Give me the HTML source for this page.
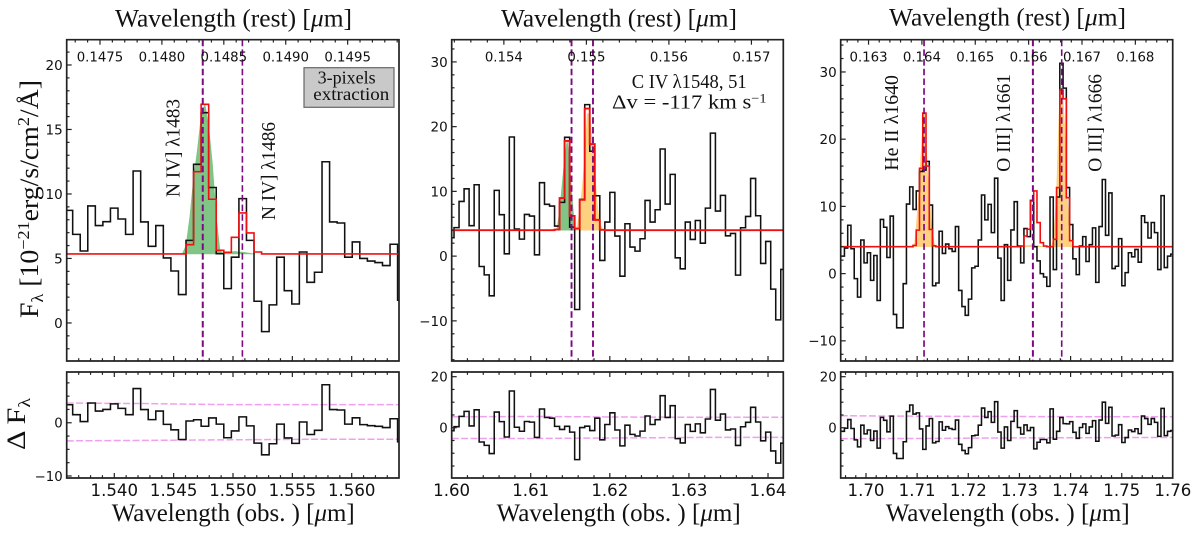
<!DOCTYPE html>
<html>
<head>
<meta charset="utf-8">
<title>Rest-frame UV emission lines</title>
<style>
html,body{margin:0;padding:0;background:#fff;}
svg{display:block;}
.serif{font-family:"Liberation Serif",serif;fill:#111;}
.sans{font-family:"DejaVu Sans",sans-serif;fill:#111;}
</style>
</head>
<body>
<svg id="chart" xmlns="http://www.w3.org/2000/svg" width="1200" height="536" viewBox="0 0 1200 536">
  <rect x="0" y="0" width="1200" height="536" fill="#fff"/>

  <text class="serif" x="115" y="26.5" font-size="25" textLength="237" lengthAdjust="spacingAndGlyphs">Wavelength (rest) [<tspan font-style="italic">μ</tspan>m]</text>
  <text class="serif" x="501" y="26.5" font-size="25" textLength="236" lengthAdjust="spacingAndGlyphs">Wavelength (rest) [<tspan font-style="italic">μ</tspan>m]</text>
  <text class="serif" x="889" y="25.5" font-size="25" textLength="237" lengthAdjust="spacingAndGlyphs">Wavelength (rest) [<tspan font-style="italic">μ</tspan>m]</text>

  <text class="serif" x="111.7" y="521" font-size="25" textLength="243" lengthAdjust="spacingAndGlyphs">Wavelength (obs. ) [<tspan font-style="italic">μ</tspan>m]</text>
  <text class="serif" x="496.7" y="521" font-size="25" textLength="244" lengthAdjust="spacingAndGlyphs">Wavelength (obs. ) [<tspan font-style="italic">μ</tspan>m]</text>
  <text class="serif" x="885.7" y="521" font-size="25" textLength="244" lengthAdjust="spacingAndGlyphs">Wavelength (obs. ) [<tspan font-style="italic">μ</tspan>m]</text>

  <text class="serif" transform="translate(38,318) rotate(-90)" font-size="26" textLength="238" lengthAdjust="spacingAndGlyphs">F<tspan dy="5" font-size="17">λ</tspan><tspan dy="-5"> [10</tspan><tspan dy="-9" font-size="17">−21</tspan><tspan dy="9">erg/s/cm</tspan><tspan dy="-9" font-size="17">2</tspan><tspan dy="9">/Å]</tspan></text>
  <text class="serif" transform="translate(25,450) rotate(-90)" font-size="26" textLength="52" lengthAdjust="spacingAndGlyphs">Δ F<tspan dy="5" font-size="17">λ</tspan></text>

  <g id="marks"></g>

  <rect x="304" y="67.7" width="90" height="39.6" fill="#c9c9c9" stroke="#666" stroke-width="1.2"/>
  <text class="serif" x="317.7" y="83.3" font-size="17.5" textLength="58" lengthAdjust="spacingAndGlyphs">3-pixels</text>
  <text class="serif" x="313.3" y="100" font-size="17.5" textLength="76" lengthAdjust="spacingAndGlyphs">extraction</text>

  <text class="serif" transform="translate(179.5,197) rotate(-90)" font-size="20" textLength="98" lengthAdjust="spacingAndGlyphs">N IV] λ1483</text>
  <text class="serif" transform="translate(275,220) rotate(-90)" font-size="20" textLength="98" lengthAdjust="spacingAndGlyphs">N IV] λ1486</text>
  <text class="serif" x="631.7" y="88" font-size="20.5" textLength="115" lengthAdjust="spacingAndGlyphs">C IV λ1548, 51</text>
  <text class="serif" x="612" y="108.3" font-size="20.5" textLength="154.5" lengthAdjust="spacingAndGlyphs">Δv = -117 km s<tspan dy="-6" font-size="13">−1</tspan></text>
  <text class="serif" transform="translate(898,170.7) rotate(-90)" font-size="20" textLength="95.7" lengthAdjust="spacingAndGlyphs">He II λ1640</text>
  <text class="serif" transform="translate(1010,171.7) rotate(-90)" font-size="20" textLength="97.7" lengthAdjust="spacingAndGlyphs">O III] λ1661</text>
  <text class="serif" transform="translate(1101.7,171.7) rotate(-90)" font-size="20" textLength="97.7" lengthAdjust="spacingAndGlyphs">O III] λ1666</text>
</svg>

<script>
// ---------- data ----------
var restFactor = 10.4325; // 1 + z

// Panel 1: N IV]
var flux1 = [8.73,6.87,5.58,9.07,7.55,7.85,8.9,8.06,6.87,11.78,7.83,5.94,7.55,5.04,4.03,2.2,6.4,12.3,16.3,10.5,5.37,2.66,5.1,9.64,6.4,1.68,-0.67,1.4,5.1,2.5,1.47,5.5,3.15,3.93,12.5,7.83,7.75,5.1,6.28,5.0,4.8,4.68,4.45,6.1,1.76];
var continuum1 = 5.35;
var modelBins1 = [16,17,18,19,20,21,22,23,24,25];
var modelValues1 = [6.07,11.73,16.95,9.59,5.63,5.48,6.64,8.53,6.98,5.5];
var fillStart1a = 15;
var fillValues1a = [5.35,5.35,6.0,8.2,11.2,13.4,16.0,17.0,15.2,12.3,8.2,5.6,5.35];
var fillStart1b = 20;
var fillValues1b = [5.35,5.4,5.45,5.5,5.5,5.55,5.5,5.5,5.45,5.4,5.35];
var lineRest1 = [0.14833,0.14865];
var errorUpper1 = [3.7,3.6,3.4,3.4,3.4];
var errorLower1 = [-3.4,-3.3,-3.2,-3.1,-3.1];
var yTicks1 = [0,5,10,15,20];
var yMinor1 = [-2,-1,1,2,3,4,6,7,8,9,11,12,13,14,16,17,18,19,21];
var resTicks1 = [-10,0];
var resMinor1 = [-7.5,-5,-2.5,2.5,5,7.5];
var xTicks1 = [1.540,1.545,1.550,1.555,1.560];
var restTicks1 = [0.1475,0.1480,0.1485,0.1490,0.1495];

// Panel 2: C IV
var flux2 = [2.84,4.4,8.45,10.4,4.7,11.03,-1.6,-2.9,-6.13,10.15,6.4,0.36,18.4,4.18,2.63,6.44,6.19,0.2,11.34,8.0,7.73,4.64,8.3,18.35,4.48,-8.25,8.76,23.4,16.2,9.33,-0.67,5.26,9.85,3.1,-3.1,5.0,1.4,0.77,2.68,8.6,5.26,7.16,16.55,8.04,12.63,-0.26,-1.96,5.26,2.58,5.5,2.0,7.42,19.0,6.96,9.38,3.14,3.5,-2.94,4.38,6.13,12.0,6.24,-1.13,2.27,-5.1,-9.85,-2.06];
var continuum2 = 4.0;
var modelBins2 = [21,22,23,24,25,26,27,28,29,30];
var modelValues2 = [4.1,8.97,17.8,6.2,4.25,8.7,22.8,17.3,5.6,4.07];
var fillStart2a = 21;
var fillValues2a = [4,4.3,7,11,15,18,14.5,9,4.5,4];
var fillStart2b = 25;
var fillValues2b = [4,4.6,7,10.5,15,22,22,17.5,13,8,5,4.2,4];
var lineRest2 = [0.15482,0.15508];
var errorUpper2 = [4.3,4.4,4.2,4.1,4.1];
var errorLower2 = [-4.2,-4.2,-4.0,-3.8,-3.8];
var yTicks2 = [-10,0,10,20,30];
var yMinor2 = [-16,-14,-12,-8,-6,-4,-2,2,4,6,8,12,14,16,18,22,24,26,28,32];
var resTicks2 = [0,20];
var resMinor2 = [-15,-10,-5,5,10,15];
var xTicks2 = [1.60,1.61,1.62,1.63,1.64];
var restTicks2 = [0.154,0.155,0.156,0.157];

// Panel 3: He II, O III]
var flux3 = [2.6,3.8,7.2,3.7,-0.75,-3.5,5,1.6,3.1,-1,2.7,-4,8.06,6.9,2.4,8.56,-6.07,-8.06,-8.06,-1.5,10.35,12.9,9.55,12.3,15.2,15.4,16.7,10.2,-1.8,-1.4,6.3,3.0,4.4,3.7,3.3,7.0,-2.5,-4.9,-6.2,-3.8,0.85,1.1,5.0,11.7,8.0,10.3,6.1,14.2,2.3,-4.0,4.3,-1.0,6.5,10.7,4.1,1.6,6.7,5.5,10.9,4.0,1.9,0.0,-0.5,-1.9,11.4,0.6,11.4,31.3,27.6,12.8,7.3,2.2,-0.15,4.1,5.5,1.8,4.3,6.8,-1.3,7.0,14.0,5.7,12.0,0.75,1.1,5.2,-1.8,0.15,3.1,2.5,3.6,1.7,8.6,7.6,5.3,7.6,6.1,0.6,11.6,0.9,2.6,2.9];
var continuum3 = 4.0;
var modelBins3 = [22,23,24,25,26,27,28,55,56,57,58,59,60,61,62,65,66,67,68,69,70];
var modelValues3 = [4.2,6.47,15.67,23.88,16.0,6.57,4.13,4.1,5.6,6.6,10.8,12.3,7.6,4.6,4.1,5.1,12.8,27.3,26,11.3,4.9];
var fillStart3a = 22;
var fillValues3a = [4,4.6,7,10,14,18,22,24,20,15,12,8,6,4.6,4];
var fillStart3b = 55;
var fillValues3b = [4,4.05,4.1,4.15,4.2,4.2,4.25,4.25,4.25,4.2,4.2,4.15,4.1,4.05,4];
var fillStart3c = 64;
var fillValues3c = [4,4.2,5,8,12,20,27,28,26,22,13,10,6,4.5,4];
var lineRest3 = [0.16404,0.16608,0.16662];
var errorUpper3 = [4.7,4.5,4.4,4.3,4.3];
var errorLower3 = [-4.3,-4.2,-4.0,-3.9,-3.8];
var yTicks3 = [-10,0,10,20,30];
var yMinor3 = [-12,-8,-6,-4,-2,2,4,6,8,12,14,16,18,22,24,26,28,32,34];
var resTicks3 = [0,20];
var resMinor3 = [-15,-10,-5,5,10,15];
var xTicks3 = [1.70,1.71,1.72,1.73,1.74,1.75,1.76];
var restTicks3 = [0.163,0.164,0.165,0.166,0.167,0.168];

// ---------- drawing ----------
var SVGNS = 'http://www.w3.org/2000/svg';
var root = document.getElementById('marks');
var clipCount = 0;

function makeLine(x1, y1, x2, y2, color, width, dash, name) {
  var el = document.createElementNS(SVGNS, 'line');
  el.setAttribute('x1', x1);
  el.setAttribute('y1', y1);
  el.setAttribute('x2', x2);
  el.setAttribute('y2', y2);
  el.setAttribute('stroke', color);
  el.setAttribute('stroke-width', width);
  if (dash) el.setAttribute('stroke-dasharray', dash);
  
  
  root.appendChild(el);
  return el;
}

function makePath(d, fill, stroke, width, dash, clip, name) {
  var el = document.createElementNS(SVGNS, 'path');
  el.setAttribute('d', d);
  el.setAttribute('fill', fill);
  el.setAttribute('stroke', stroke);
  el.setAttribute('stroke-width', width);
  el.setAttribute('stroke-linejoin', 'miter');
  if (dash) el.setAttribute('stroke-dasharray', dash);
  if (clip) el.setAttribute('clip-path', 'url(#' + clip + ')');
  
  
  root.appendChild(el);
  return el;
}

function makeText(x, y, str, size, anchor, name) {
  var el = document.createElementNS(SVGNS, 'text');
  el.setAttribute('x', x);
  el.setAttribute('y', y);
  el.setAttribute('font-size', size);
  el.setAttribute('text-anchor', anchor);
  el.setAttribute('class', 'sans');
  el.textContent = str;
  
  
  root.appendChild(el);
  return el;
}

function makeClip(x, y, w, h) {
  clipCount += 1;
  var id = 'panel-clip-' + clipCount;
  var cp = document.createElementNS(SVGNS, 'clipPath');
  cp.setAttribute('id', id);
  
  
  var r = document.createElementNS(SVGNS, 'rect');
  r.setAttribute('x', x);
  r.setAttribute('y', y);
  r.setAttribute('width', w);
  r.setAttribute('height', h);
  
  
  cp.appendChild(r);
  root.appendChild(cp);
  return id;
}

function linear(d0, d1, r0, r1) {
  return function (v) { return r0 + (v - d0) / (d1 - d0) * (r1 - r0); };
}

function fullModel(n, base, bins, values) {
  var out = [];
  for (var i = 0; i < n; i++) out.push(base);
  for (var j = 0; j < bins.length; j++) out[bins[j]] = values[j];
  return out;
}

function stepPath(values, edge, x, y) {
  var d = '';
  for (var i = 0; i < values.length; i++) {
    var yy = y(values[i]).toFixed(2);
    d += (i === 0 ? 'M' : 'L') + x(edge(i)).toFixed(2) + ' ' + yy;
    d += 'L' + x(edge(i + 1)).toFixed(2) + ' ' + yy;
  }
  return d;
}

function fillPath(start, values, base, edge, x, y) {
  var d = 'M' + x(edge(start)).toFixed(2) + ' ' + y(base).toFixed(2);
  for (var i = 0; i < values.length; i++) {
    d += 'L' + x(edge(start + i / 2)).toFixed(2) + ' ' + y(values[i]).toFixed(2);
  }
  d += 'L' + x(edge(start + (values.length - 1) / 2)).toFixed(2) + ' ' + y(base).toFixed(2) + 'Z';
  return d;
}

function drawPanel(p) {
  var x = linear(p.xMin, p.xMax, p.left, p.right);
  var y = linear(p.yMin, p.yMax, 361, 39.7);
  var yr = linear(p.rMin, p.rMax, 478, 372);
  var edge = function (i) { return p.lambda0 + i * p.dLambda; };
  var clipTop = makeClip(p.left, 39.7, p.right - p.left, 321.3);
  var clipRes = makeClip(p.left, 372, p.right - p.left, 106);
  var model = fullModel(p.flux.length, p.continuum, p.modelBins, p.modelValues);
  var i;

  // filled line profiles
  for (i = 0; i < p.fills.length; i++) {
    makePath(fillPath(p.fills[i].start, p.fills[i].values, p.continuum, edge, x, y),
      p.fills[i].color, p.fills[i].color, 0.6, null, clipTop, p.id + '-line-profile-fill');
  }
  // observed and model spectra
  makePath(stepPath(p.flux, edge, x, y), 'none', '#111', 1.55, null, clipTop, p.id + '-observed-spectrum');
  makePath(stepPath(model, edge, x, y), 'none', '#f01010', p.redWidth, null, clipTop, p.id + '-model-spectrum');

  // emission line markers
  for (i = 0; i < p.lineRest.length; i++) {
    var lx = x(p.lineRest[i] * restFactor);
    makeLine(lx, 39.7, lx, 361, '#7d0a82', p.lineWidths[i], '6.5 3.2', p.id + '-emission-line-marker');
  }

  // residuals: observed minus model
  var residual = [];
  for (i = 0; i < p.flux.length; i++) residual.push(p.flux[i] - model[i]);
  var errorX = function (i, n) { return p.left + i / (n - 1) * (p.right - p.left); };
  var du = '', dl = '';
  for (i = 0; i < p.errorUpper.length; i++) {
    du += (i === 0 ? 'M' : 'L') + errorX(i, p.errorUpper.length).toFixed(2) + ' ' + yr(p.errorUpper[i]).toFixed(2);
    dl += (i === 0 ? 'M' : 'L') + errorX(i, p.errorLower.length).toFixed(2) + ' ' + yr(p.errorLower[i]).toFixed(2);
  }
  makePath(du, 'none', '#f0a0ee', 1.5, '7 2.4', clipRes, p.id + '-upper-noise-level');
  makePath(dl, 'none', '#f0a0ee', 1.5, '7 2.4', clipRes, p.id + '-lower-noise-level');
  makePath(stepPath(residual, edge, x, yr), 'none', '#111', 1.55, null, clipRes, p.id + '-residual-spectrum');

  // x ticks on both frames
  var color = '#222';
  for (var v = p.xMinorStart; v <= p.xMax + 1e-9; v += p.xMinorStep) {
    var isMajor = false;
    for (i = 0; i < p.xTicks.length; i++) if (Math.abs(p.xTicks[i] - v) < 1e-6) isMajor = true;
    var len = isMajor ? 5 : 2.8;
    var tx = x(v);
    if (tx > p.left + 0.5 && tx < p.right - 0.5) {
      makeLine(tx, 361, tx, 361 - len, color, 1.2, null, p.id + '-upper-x-tick');
      makeLine(tx, 478, tx, 478 - len, color, 1.2, null, p.id + '-lower-x-tick');
      makeLine(tx, 372, tx, 372 + len, color, 1.2, null, p.id + '-lower-top-x-tick');
    }
  }
  for (i = 0; i < p.xTicks.length; i++) {
    makeText(x(p.xTicks[i]), 496, p.xTicks[i].toFixed(p.xDigits), 16.6, 'middle', p.id + '-x-tick-label');
  }

  // rest-frame axis on top
  var rx = function (r) { return x(r * restFactor); };
  var rStart = p.xMin / restFactor;
  var rEnd = p.xMax / restFactor;
  var rStep = p.restMinorStep;
  for (var r = Math.ceil(rStart / rStep) * rStep; r <= rEnd; r += rStep) {
    var rMajor = false;
    for (i = 0; i < p.restTicks.length; i++) if (Math.abs(p.restTicks[i] - r) < 1e-7) rMajor = true;
    makeLine(rx(r), 39.7, rx(r), 39.7 + (rMajor ? 5 : 2.8), color, 1.2, null, p.id + '-rest-x-tick');
  }
  for (i = 0; i < p.restTicks.length; i++) {
    makeText(rx(p.restTicks[i]), 61.7, p.restTicks[i].toFixed(p.restDigits), 13.3, 'middle', p.id + '-rest-tick-label');
  }

  // y ticks
  for (i = 0; i < p.yTicks.length; i++) {
    var ty = y(p.yTicks[i]);
    makeLine(p.left, ty, p.left + 5, ty, color, 1.2, null, p.id + '-y-tick');
    makeText(p.left - 4, ty + 4.9, String(p.yTicks[i]).replace('-', '\u2212'), 13.5, 'end', p.id + '-y-tick-label');
  }
  for (i = 0; i < p.yMinor.length; i++) {
    makeLine(p.left, y(p.yMinor[i]), p.left + 2.8, y(p.yMinor[i]), color, 1.2, null, p.id + '-y-minor-tick');
  }
  for (i = 0; i < p.resTicks.length; i++) {
    var try_ = yr(p.resTicks[i]);
    makeLine(p.left, try_, p.left + 5, try_, color, 1.2, null, p.id + '-residual-y-tick');
    makeText(p.left - 4, try_ + 4.9, String(p.resTicks[i]).replace('-', '\u2212'), 13.3, 'end', p.id + '-residual-y-tick-label');
  }
  for (i = 0; i < p.resMinor.length; i++) {
    makeLine(p.left, yr(p.resMinor[i]), p.left + 2.8, yr(p.resMinor[i]), color, 1.2, null, p.id + '-residual-y-minor-tick');
  }

  // frames
  makePath('M' + p.left + ' 39.7H' + p.right + 'V361H' + p.left + 'Z', 'none', '#222', 1.7, null, null, p.id + '-flux-frame');
  makePath('M' + p.left + ' 372H' + p.right + 'V478H' + p.left + 'Z', 'none', '#222', 1.7, null, null, p.id + '-residual-frame');
}

var GREEN = '#80c585';
var ORANGE = '#fdd17f';

drawPanel({
  id: 'n-iv-panel', left: 66.7, right: 399,
  xMin: 1.53599, xMax: 1.563985, yMin: -2.95, yMax: 21.96, rMin: -10.38, rMax: 9.54,
  lambda0: 1.535856, dLambda: 0.0006366,
  flux: flux1, continuum: continuum1, modelBins: modelBins1, modelValues: modelValues1,
  fills: [
    {start: fillStart1a, values: fillValues1a, color: GREEN},
    {start: fillStart1b, values: fillValues1b, color: GREEN}
  ],
  lineRest: lineRest1, lineWidths: [2.0, 1.6], redWidth: 1.6,
  errorUpper: errorUpper1, errorLower: errorLower1,
  yTicks: yTicks1, yMinor: yMinor1, resTicks: resTicks1, resMinor: resMinor1,
  xTicks: xTicks1, xMinorStart: 1.536, xMinorStep: 0.001, xDigits: 3,
  restTicks: restTicks1, restMinorStep: 0.0001, restDigits: 4
});

drawPanel({
  id: 'c-iv-panel', left: 451.7, right: 783.3,
  xMin: 1.60001, xMax: 1.641932, yMin: -16.2, yMax: 33.43, rMin: -19.7, rMax: 21.84,
  lambda0: 1.599668, dLambda: 0.0006355,
  flux: flux2, continuum: continuum2, modelBins: modelBins2, modelValues: modelValues2,
  fills: [
    {start: fillStart2a, values: fillValues2a, color: GREEN},
    {start: fillStart2b, values: fillValues2b, color: ORANGE}
  ],
  lineRest: lineRest2, lineWidths: [1.9, 1.9], redWidth: 1.9,
  errorUpper: errorUpper2, errorLower: errorLower2,
  yTicks: yTicks2, yMinor: yMinor2, resTicks: resTicks2, resMinor: resMinor2,
  xTicks: xTicks2, xMinorStart: 1.60, xMinorStep: 0.002, xDigits: 2,
  restTicks: restTicks2, restMinorStep: 0.0002, restDigits: 3
});

drawPanel({
  id: 'he-ii-o-iii-panel', left: 840.7, right: 1172.7,
  xMin: 1.695054, xMax: 1.759962, yMin: -13.0, yMax: 34.8, rMin: -19.7, rMax: 21.84,
  lambda0: 1.695146, dLambda: 0.000638,
  flux: flux3, continuum: continuum3, modelBins: modelBins3, modelValues: modelValues3,
  fills: [
    {start: fillStart3a, values: fillValues3a, color: ORANGE},
    {start: fillStart3b, values: fillValues3b, color: ORANGE},
    {start: fillStart3c, values: fillValues3c, color: ORANGE}
  ],
  lineRest: lineRest3, lineWidths: [1.7, 2.0, 1.6], redWidth: 1.6,
  errorUpper: errorUpper3, errorLower: errorLower3,
  yTicks: yTicks3, yMinor: yMinor3, resTicks: resTicks3, resMinor: resMinor3,
  xTicks: xTicks3, xMinorStart: 1.696, xMinorStep: 0.002, xDigits: 2,
  restTicks: restTicks3, restMinorStep: 0.0002, restDigits: 3
});
</script>
</body>
</html>
